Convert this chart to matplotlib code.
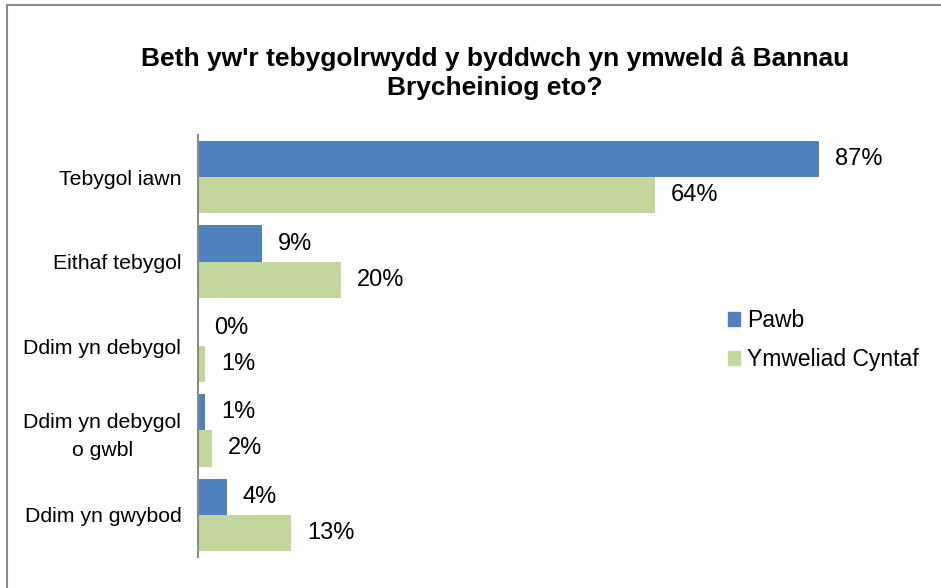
import matplotlib
matplotlib.use("Agg")
from matplotlib import pyplot as plt
from matplotlib.patches import Rectangle, Patch
import numpy as np

plt.rcParams['font.family'] = ['Liberation Sans', 'DejaVu Sans']

categorias = ["Tebygol iawn", "Eithaf tebygol", "Ddim yn debygol",
              "Ddim yn debygol\no gwbl", "Ddim yn gwybod"]
pawb = [87, 9, 0, 1, 4]
cyntaf = [64, 20, 1, 2, 13]
series = ["Pawb", "Ymweliad Cyntaf"]
colores = ["#4F81BD", "#C3D69B"]

W, H = 941, 588
fig = plt.figure(figsize=(W / 100, H / 100), dpi=100)

# marco gris (solo se ven izquierda y arriba)
fig.patches.append(Rectangle((6.5 / W, -0.5), 2, 1.5 - 4.5 / H, transform=fig.transFigure,
                             fill=False, edgecolor="#8C8C8C", linewidth=1.5))

ax = fig.add_axes([198 / W, 1 - 557 / H, 714 / W, (557 - 135) / H])

y = np.arange(len(categorias))
h = 0.428
ax.barh(y - h / 2, pawb, height=h, color=colores[0])
ax.barh(y + h / 2, cyntaf, height=h, color=colores[1])

ax.set_xlim(0, 100)
ax.set_ylim(len(categorias) - 0.5, -0.5)

for i in range(len(categorias)):
    ax.annotate(f"{pawb[i]}%", (pawb[i], y[i] - h / 2), xytext=(16, 0),
                textcoords="offset pixels", va="center", ha="left", fontsize=17)
    ax.annotate(f"{cyntaf[i]}%", (cyntaf[i], y[i] + h / 2), xytext=(16, 0),
                textcoords="offset pixels", va="center", ha="left", fontsize=17)

ax.set_yticks(y)
ax.set_yticklabels(categorias, fontsize=15.3, multialignment="center", linespacing=1.6)
ax.tick_params(axis="y", length=0, pad=12)
ax.set_xticks([])
for s in ["top", "right", "bottom"]:
    ax.spines[s].set_visible(False)
ax.spines["left"].set_color("#8C8C8C")
ax.spines["left"].set_linewidth(1.5)

fig.text(495 / W, 1 - 73 / H, "Beth yw'r tebygolrwydd y byddwch yn ymweld â Bannau\nBrycheiniog eto?",
         ha="center", va="center", fontsize=19, fontweight="bold", linespacing=1.24)

handles = [Patch(color=c) for c in colores]
fig.legend(handles, series, loc="center left", bbox_to_anchor=(728 / W, 1 - 340 / H),
           frameon=False, fontsize=16.5, handlelength=0.52, handleheight=0.52,
           handletextpad=0.3, labelspacing=0.7, borderaxespad=0, borderpad=0)

fig.savefig("out.png", dpi=100)
